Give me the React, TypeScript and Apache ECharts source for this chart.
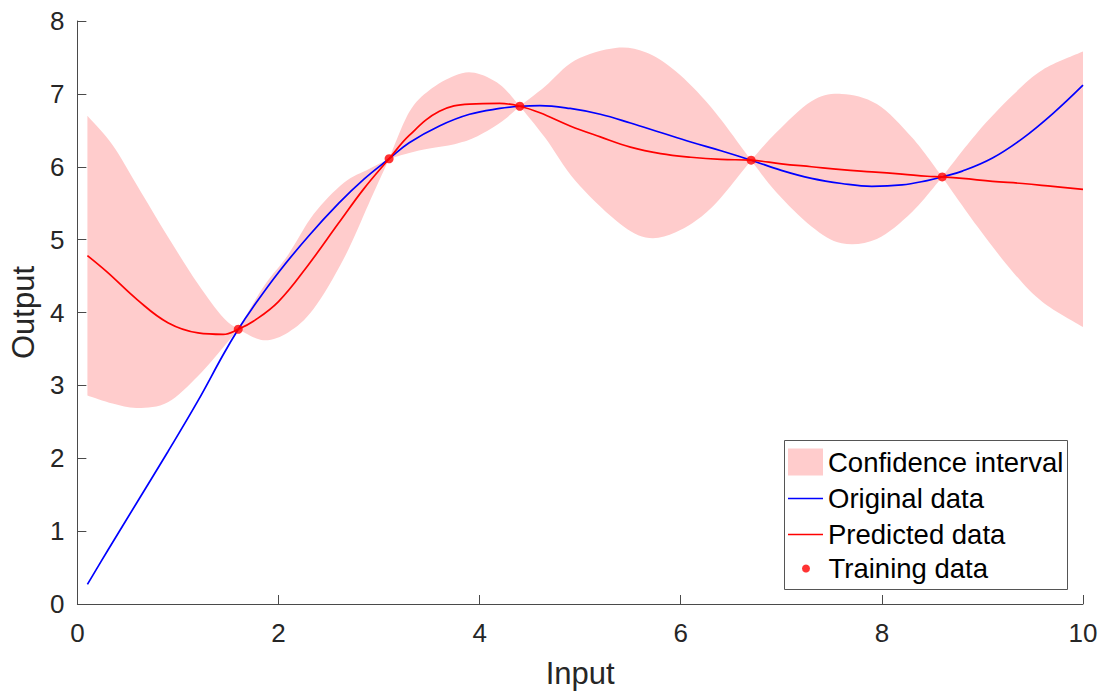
import React, { useEffect, useRef } from "react";
import * as echarts from "echarts";

// curves
const lineX = [0.1, 0.3, 0.6, 0.9, 1.2, 1.45, 1.6, 1.75, 2.0, 2.3, 2.6, 2.85, 3.1, 3.3, 3.6, 3.9, 4.2, 4.4, 4.6, 4.9, 5.2, 5.5, 5.8, 6.1, 6.4, 6.7, 7.0, 7.3, 7.6, 7.9, 8.2, 8.45, 8.6, 8.8, 9.1, 9.4, 9.7, 10.0];

const originalData = [0.27, 0.73, 1.41, 2.09, 2.79, 3.42, 3.77, 4.08, 4.55, 5.05, 5.50, 5.83, 6.11, 6.33, 6.56, 6.72, 6.80, 6.83, 6.84, 6.80, 6.72, 6.60, 6.47, 6.34, 6.22, 6.09, 5.95, 5.84, 5.77, 5.73, 5.75, 5.81, 5.86, 5.94, 6.12, 6.39, 6.73, 7.12];

const predictedData = [4.78, 4.55, 4.17, 3.86, 3.72, 3.70, 3.77, 3.88, 4.15, 4.66, 5.23, 5.70, 6.11, 6.43, 6.76, 6.86, 6.87, 6.83, 6.74, 6.56, 6.41, 6.27, 6.18, 6.13, 6.10, 6.09, 6.04, 6.00, 5.96, 5.93, 5.90, 5.87, 5.86, 5.84, 5.80, 5.77, 5.73, 5.69];

// confidence band, read at its own x positions
const bandX = [0.1, 0.35, 0.6, 0.9, 1.2, 1.45, 1.6, 1.85, 2.1, 2.35, 2.65, 2.9, 3.1, 3.3, 3.5, 3.75, 3.95, 4.2, 4.4, 4.65, 4.95, 5.35, 5.65, 5.95, 6.3, 6.7, 6.95, 7.3, 7.6, 7.95, 8.3, 8.6, 8.95, 9.3, 9.6, 10.0];

const upperBound = [6.70, 6.30, 5.73, 5.04, 4.39, 3.93, 3.77, 4.35, 4.80, 5.35, 5.78, 5.97, 6.11, 6.75, 7.05, 7.25, 7.29, 7.13, 6.83, 7.10, 7.46, 7.63, 7.57, 7.31, 6.82, 6.09, 6.47, 6.90, 7.00, 6.86, 6.40, 5.86, 6.47, 6.98, 7.33, 7.58];

const lowerBound = [2.86, 2.75, 2.69, 2.77, 3.13, 3.52, 3.77, 3.62, 3.73, 4.05, 4.74, 5.50, 6.11, 6.19, 6.25, 6.31, 6.40, 6.60, 6.83, 6.40, 5.81, 5.27, 5.03, 5.10, 5.43, 6.09, 5.65, 5.18, 4.95, 5.01, 5.38, 5.86, 5.18, 4.56, 4.14, 3.80];

const trainX = [1.6, 3.1, 4.4, 6.7, 8.6];
const trainY = [3.77, 6.11, 6.83, 6.09, 5.86];

const legendNames = ["Confidence interval", "Original data", "Predicted data", "Training data"];
const xAxisTitle = "Input";
const yAxisTitle = "Output";

const FONT = "'Liberation Sans', Arial, Helvetica, sans-serif";
const AXIS_COLOR = "#4a4a4a";
const TEXT_COLOR = "#262626";
const BAND_COLOR = "#ffcccc";

type Pt = number[];

// Catmull-Rom spline through pixel points, as cubic beziers
function splinePath(pts: Pt[], start: boolean): string {
  let d = (start ? "M" : "L") + pts[0][0].toFixed(2) + "," + pts[0][1].toFixed(2);
  for (let i = 0; i < pts.length - 1; i++) {
    const p0 = pts[i - 1] || pts[i];
    const p1 = pts[i];
    const p2 = pts[i + 1];
    const p3 = pts[i + 2] || pts[i + 1];
    const c1x = p1[0] + (p2[0] - p0[0]) / 6;
    const c1y = p1[1] + (p2[1] - p0[1]) / 6;
    const c2x = p2[0] - (p3[0] - p1[0]) / 6;
    const c2y = p2[1] - (p3[1] - p1[1]) / 6;
    d += " C" + c1x.toFixed(2) + "," + c1y.toFixed(2) + " " + c2x.toFixed(2) + "," + c2y.toFixed(2) + " " + p2[0].toFixed(2) + "," + p2[1].toFixed(2);
  }
  return d;
}

// split the band at the training points, where it pinches
function bandSegments(): number[][] {
  const segs: number[][] = [];
  let cur: number[] = [0];
  for (let i = 1; i < bandX.length; i++) {
    cur.push(i);
    if (trainX.indexOf(bandX[i]) >= 0 && i < bandX.length - 1) {
      segs.push(cur);
      cur = [i];
    }
  }
  segs.push(cur);
  return segs;
}

export default function App() {
  const ref = useRef<HTMLDivElement>(null);

  useEffect(() => {
    if (!ref.current) return;
    const chart = echarts.init(ref.current, null, { renderer: "svg" });

    const origPts = lineX.map((x, i) => [x, originalData[i]]);
    const predPts = lineX.map((x, i) => [x, predictedData[i]]);
    const trainPts = trainX.map((x, i) => [x, trainY[i]]);
    const segs = bandSegments();

    const legendText = { fontSize: 27.5, color: "#000", fontFamily: FONT, lineHeight: 27 };

    chart.setOption({
      animation: false,
      backgroundColor: "#fff",
      grid: { left: 76, right: 25, top: 21, bottom: 87, containLabel: false },
      xAxis: {
        type: "value",
        min: 0,
        max: 10,
        interval: 2,
        z: 6,
        name: xAxisTitle,
        nameLocation: "middle",
        nameGap: 54,
        nameTextStyle: { fontSize: 31, color: TEXT_COLOR, fontFamily: FONT },
        axisLine: { show: true, onZero: false, lineStyle: { color: AXIS_COLOR, width: 1 } },
        axisTick: { show: true, inside: true, length: 9, lineStyle: { color: AXIS_COLOR, width: 1 } },
        axisLabel: { fontSize: 26, color: TEXT_COLOR, fontFamily: FONT, margin: 16 },
        splitLine: { show: false },
      },
      yAxis: {
        type: "value",
        min: 0,
        max: 8,
        interval: 1,
        z: 6,
        name: yAxisTitle,
        nameLocation: "middle",
        nameGap: 36,
        nameTextStyle: { fontSize: 31, color: TEXT_COLOR, fontFamily: FONT },
        axisLine: { show: true, onZero: false, lineStyle: { color: AXIS_COLOR, width: 1 } },
        axisTick: { show: true, inside: true, length: 9, lineStyle: { color: AXIS_COLOR, width: 1 } },
        axisLabel: { fontSize: 26, color: TEXT_COLOR, fontFamily: FONT, margin: 13 },
        splitLine: { show: false },
      },
      legend: [
        {
          data: [{ name: legendNames[0], icon: "rect" }],
          left: 788,
          top: 448,
          z: 8,
          orient: "vertical",
          itemWidth: 35,
          itemHeight: 27,
          padding: 0,
          selectedMode: false,
          textStyle: legendText,
        },
        {
          data: [
            { name: legendNames[1], icon: "rect" },
            { name: legendNames[2], icon: "rect" },
          ],
          left: 788,
          top: 484.5,
          z: 8,
          orient: "vertical",
          itemWidth: 35,
          itemHeight: 1.6,
          itemGap: 8,
          padding: 0,
          selectedMode: false,
          textStyle: legendText,
        },
        {
          data: [{ name: legendNames[3], icon: "circle" }],
          left: 802,
          top: 554.5,
          z: 8,
          orient: "vertical",
          itemWidth: 35,
          itemHeight: 8,
          padding: 0,
          selectedMode: false,
          textStyle: legendText,
        },
      ],
      graphic: [
        {
          type: "rect",
          z: 7,
          shape: { x: 784.5, y: 440.5, width: 283, height: 149 },
          style: { fill: "#fff", stroke: "#555", lineWidth: 1 },
        },
      ],
      series: [
        {
          name: legendNames[0],
          type: "custom",
          coordinateSystem: "cartesian2d",
          data: [[bandX[0], upperBound[0]]],
          color: BAND_COLOR,
          itemStyle: { color: BAND_COLOR },
          silent: true,
          z: 1,
          renderItem: (params: any, api: any) => {
            if (params.dataIndex !== 0) return null;
            const up = bandX.map((x, i) => api.coord([x, upperBound[i]]));
            const lo = bandX.map((x, i) => api.coord([x, lowerBound[i]]));
            let d = "";
            segs.forEach((seg, k) => {
              d += (k ? " " : "") + splinePath(seg.map((i) => up[i]), k === 0);
            });
            for (let k = segs.length - 1; k >= 0; k--) {
              const pts = segs[k].slice().reverse().map((i) => lo[i]);
              d += " " + splinePath(pts, false);
            }
            d += " Z";
            return {
              type: "path",
              shape: { pathData: d },
              style: { fill: BAND_COLOR, stroke: null },
            };
          },
        },
        {
          name: legendNames[1],
          type: "line",
          data: origPts,
          smooth: 0.4,
          symbol: "none",
          color: "#0000ff",
          itemStyle: { color: "#0000ff" },
          lineStyle: { width: 1.7, color: "#0000ff" },
          z: 3,
        },
        {
          name: legendNames[2],
          type: "line",
          data: predPts,
          smooth: 0.4,
          symbol: "none",
          color: "#ff0000",
          itemStyle: { color: "#ff0000" },
          lineStyle: { width: 1.7, color: "#ff0000" },
          z: 4,
        },
        {
          name: legendNames[3],
          type: "scatter",
          data: trainPts,
          symbol: "circle",
          symbolSize: 9,
          color: "#ff0000",
          itemStyle: { color: "#ff0000" },
          z: 5,
        },
      ],
    });

    return () => {
      chart.dispose();
    };
  }, []);

  return (
    <div
      ref={ref}
      style={{ position: "fixed", left: 0, top: 0, width: 1108, height: 694, background: "#fff" }}
    />
  );
}
